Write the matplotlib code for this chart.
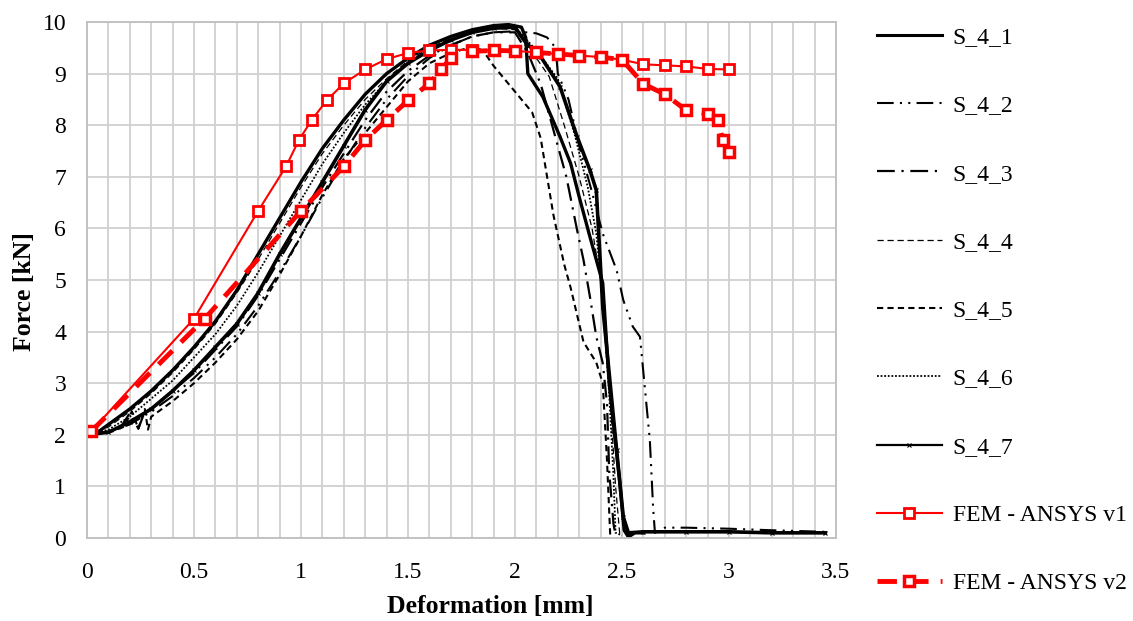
import matplotlib
matplotlib.use("Agg")
import matplotlib.pyplot as plt
from matplotlib.ticker import MultipleLocator

plt.rcParams['font.family'] = ['Liberation Serif', 'DejaVu Serif']

s41_x = [0, 0.05, 0.1, 0.2, 0.3, 0.4, 0.5, 0.6, 0.7, 0.8, 0.9, 1.0, 1.1, 1.2, 1.3, 1.4, 1.5, 1.6, 1.7,
         1.8, 1.9, 1.97, 2.03, 2.05, 2.06, 2.13, 2.21, 2.26, 2.3, 2.35, 2.41, 2.44, 2.49, 2.51, 2.53, 2.56, 2.6]
s41_y = [2.0, 2.05, 2.2, 2.5, 2.85, 3.25, 3.7, 4.2, 4.8, 5.5, 6.2, 6.9, 7.55, 8.1, 8.6, 9.0, 9.3, 9.55, 9.72,
         9.85, 9.93, 9.95, 9.9, 9.7, 9.0, 8.55, 7.78, 7.26, 6.61, 5.84, 4.94, 3.0, 1.06, 0.15, 0.02, 0.1, 0.1]

s42_x = [0, 0.1, 0.2, 0.3, 0.4, 0.5, 0.6, 0.7, 0.8, 0.9, 1.0, 1.1, 1.2, 1.3, 1.4, 1.5, 1.6, 1.7, 1.8, 1.9,
         2.0, 2.1, 2.15, 2.19, 2.2, 2.25, 2.3, 2.36, 2.41, 2.475, 2.506, 2.55, 2.584, 2.63, 2.646, 2.654,
         2.7, 2.8, 3.0, 3.2, 3.45]
s42_y = [2.0, 2.05, 2.2, 2.45, 2.75, 3.1, 3.5, 3.95, 4.5, 5.15, 5.85, 6.6, 7.3, 7.95, 8.5, 8.95, 9.3, 9.55,
         9.72, 9.8, 9.82, 9.78, 9.7, 9.5, 9.0, 8.5, 7.6, 6.7, 5.9, 5.19, 4.61, 4.1, 3.9, 1.9, 0.54, 0.1,
         0.2, 0.2, 0.18, 0.15, 0.12]

s43_x = [0, 0.1, 0.15, 0.2, 0.24, 0.27, 0.3, 0.4, 0.5, 0.6, 0.7, 0.8, 0.9, 1.0, 1.1, 1.2, 1.3, 1.4, 1.5,
         1.6, 1.7, 1.8, 1.9, 2.0, 2.06, 2.12, 2.18, 2.24, 2.29, 2.32, 2.35, 2.38, 2.41, 2.43, 2.44, 2.46, 2.47]
s43_y = [2.0, 2.05, 2.1, 2.42, 2.12, 2.45, 2.5, 2.85, 3.2, 3.65, 4.1, 4.7, 5.4, 6.1, 6.8, 7.45, 8.1, 8.65,
         9.05, 9.35, 9.55, 9.72, 9.8, 9.8, 9.4, 8.8, 7.9, 7.0, 5.97, 5.39, 4.68, 3.9, 3.39, 2.6, 1.3, 0.28, 0.05]

s44_x = [0, 0.1, 0.2, 0.3, 0.4, 0.5, 0.6, 0.7, 0.8, 0.9, 1.0, 1.1, 1.2, 1.3, 1.4, 1.5, 1.6, 1.7, 1.8, 1.9,
         2.0, 2.1, 2.16, 2.23, 2.3, 2.36, 2.4, 2.44, 2.47, 2.49]
s44_y = [2.0, 2.15, 2.45, 2.8, 3.2, 3.65, 4.15, 4.75, 5.4, 6.1, 6.8, 7.45, 8.0, 8.5, 8.9, 9.25, 9.5, 9.68,
         9.8, 9.88, 9.85, 9.3, 8.94, 8.0, 7.0, 6.0, 5.0, 3.0, 1.0, 0.05]

s45_x = [0, 0.1, 0.17, 0.21, 0.24, 0.27, 0.285, 0.3, 0.4, 0.5, 0.6, 0.7, 0.8, 0.9, 1.0, 1.1, 1.2, 1.3, 1.4,
         1.5, 1.6, 1.7, 1.8, 1.85, 1.9, 2.0, 2.08, 2.12, 2.15, 2.18, 2.23, 2.26, 2.32, 2.38, 2.41, 2.43, 2.445]
s45_y = [2.0, 2.05, 2.15, 2.45, 2.12, 2.5, 2.1, 2.35, 2.65, 3.0, 3.4, 3.85, 4.4, 5.1, 5.85, 6.65, 7.35, 7.85,
         8.35, 8.85, 9.2, 9.4, 9.52, 9.45, 9.15, 8.65, 8.25, 7.75, 7.0, 6.25, 5.3, 4.85, 3.8, 3.4, 3.0, 1.5, 0.05]

s46_x = [0, 0.1, 0.2, 0.3, 0.4, 0.5, 0.6, 0.7, 0.8, 0.9, 1.0, 1.1, 1.2, 1.3, 1.4, 1.5, 1.6, 1.7, 1.8, 1.9,
         2.0, 2.1, 2.2, 2.28, 2.34, 2.38, 2.41, 2.44, 2.46, 2.47, 2.5]
s46_y = [2.0, 2.1, 2.35, 2.7, 3.05, 3.5, 3.95, 4.5, 5.15, 5.85, 6.55, 7.25, 7.85, 8.4, 8.85, 9.2, 9.45, 9.65,
         9.8, 9.88, 9.9, 9.45, 8.9, 7.8, 6.8, 5.9, 4.6, 2.8, 1.2, 0.1, 0.05]

s47_x = [0, 0.1, 0.2, 0.3, 0.4, 0.5, 0.6, 0.7, 0.8, 0.9, 1.0, 1.1, 1.2, 1.3, 1.4, 1.5, 1.6, 1.7, 1.8, 1.9,
         2.0, 2.05, 2.12, 2.21, 2.29, 2.35, 2.38, 2.41, 2.475, 2.506, 2.53, 2.6, 2.8, 3.0, 3.2, 3.45]
s47_y = [2.0, 2.05, 2.25, 2.5, 2.85, 3.25, 3.7, 4.15, 4.75, 5.5, 6.2, 6.9, 7.6, 8.3, 8.85, 9.2, 9.45, 9.65,
         9.8, 9.88, 9.9, 9.6, 9.33, 8.75, 7.78, 7.13, 6.74, 4.48, 1.7, 0.41, 0.1, 0.12, 0.12, 0.12, 0.1, 0.1]

# FEM results
v1_x = [0.02, 0.5, 0.8, 0.93, 0.99, 1.05, 1.12, 1.2, 1.3, 1.4, 1.5, 1.6, 1.7, 1.8, 1.9, 2.0, 2.1, 2.2,
        2.3, 2.4, 2.5, 2.6, 2.7, 2.8, 2.9, 3.0]
v1_y = [2.07, 4.25, 6.34, 7.2, 7.71, 8.1, 8.48, 8.81, 9.08, 9.28, 9.4, 9.45, 9.46, 9.46, 9.45, 9.44, 9.41,
        9.38, 9.35, 9.32, 9.27, 9.18, 9.16, 9.14, 9.09, 9.08]
v2_x = [0.02, 0.55, 1.0, 1.2, 1.3, 1.4, 1.5, 1.6, 1.655, 1.7, 1.8, 1.9, 2.0, 2.1, 2.2, 2.3, 2.4, 2.5,
        2.6, 2.7, 2.8, 2.9, 2.95, 2.97, 3.0]
v2_y = [2.07, 4.25, 6.34, 7.2, 7.71, 8.1, 8.48, 8.81, 9.08, 9.3, 9.43, 9.45, 9.44, 9.41, 9.38, 9.35, 9.32,
        9.27, 8.8, 8.6, 8.29, 8.22, 8.1, 7.71, 7.48]

fig = plt.figure(figsize=(11.33, 6.21), dpi=100)
ax = fig.add_axes([87 / 1133, 1 - 538 / 621, (836 - 87) / 1133, (538 - 22) / 621])

ax.plot(s41_x, s41_y, color='black', lw=2.4, label='S_4_1')
ax.plot(s42_x, s42_y, color='black', lw=1.5, ls=(0, (8, 3, 1, 3, 1, 3)), label='S_4_2')
ax.plot(s43_x, s43_y, color='black', lw=1.6, ls=(0, (8, 3, 1, 3)), label='S_4_3')
ax.plot(s44_x, s44_y, color='black', lw=0.9, ls=(0, (5, 3)), label='S_4_4')
ax.plot(s45_x, s45_y, color='black', lw=1.5, ls=(0, (3, 2)), label='S_4_5')
ax.plot(s46_x, s46_y, color='black', lw=1.3, ls=(0, (1, 1)), label='S_4_6')
ax.plot(s47_x, s47_y, color='black', lw=2.6, marker='x', ms=3.5, mew=0.8, label='S_4_7')
ax.plot(v1_x, v1_y, color='#ff0000', lw=1.5, marker='s', ms=6.5, mfc='white', mec='#ff0000', mew=2,
        label='FEM - ANSYS v1')
ax.plot(v2_x, v2_y, color='#ff0000', lw=3.5, ls=(0, (4, 2.5)), marker='s', ms=7.5, mfc='white',
        mec='#ff0000', mew=2.5, label='FEM - ANSYS v2')

ax.set_xlim(0, 3.5)
ax.set_ylim(0, 10)
ax.xaxis.set_minor_locator(MultipleLocator(0.1))
ax.yaxis.set_major_locator(MultipleLocator(1))
ax.set_xticks([0, 0.5, 1, 1.5, 2, 2.5, 3, 3.5], ['0', '0.5', '1', '1.5', '2', '2.5', '3', '3.5'])
ax.grid(True, which='both', axis='x', color='#d0d0d0', lw=1.3)
ax.grid(True, which='major', axis='y', color='#d0d0d0', lw=1.3)
ax.set_axisbelow(True)
ax.tick_params(which='both', length=0, labelsize=17)
ax.tick_params(axis='x', pad=17)
ax.tick_params(axis='y', pad=15)
for sp in ax.spines.values():
    sp.set_color('#bfbfbf')
    sp.set_linewidth(1.3)

ax.set_xlabel('Deformation [mm]', fontsize=18.5, fontweight='bold', va='center')
ax.xaxis.set_label_coords((490 - 87) / 749, (538 - 606) / 516)
ax.set_ylabel('Force [kN]', fontsize=18.5, fontweight='bold', va='center')
ax.yaxis.set_label_coords((25 - 87) / 749, (538 - 292) / 516)

leg = fig.legend(loc='center left', bbox_to_anchor=(877 / 1133, 0.5), frameon=False, fontsize=17,
                 handlelength=2.75, handletextpad=0.45, labelspacing=1.98, borderpad=0, borderaxespad=0)
leg.legend_handles[0].set_linewidth(2.2)
leg.legend_handles[6].set_linewidth(1.6)

fig.savefig('out.png', dpi=100)
